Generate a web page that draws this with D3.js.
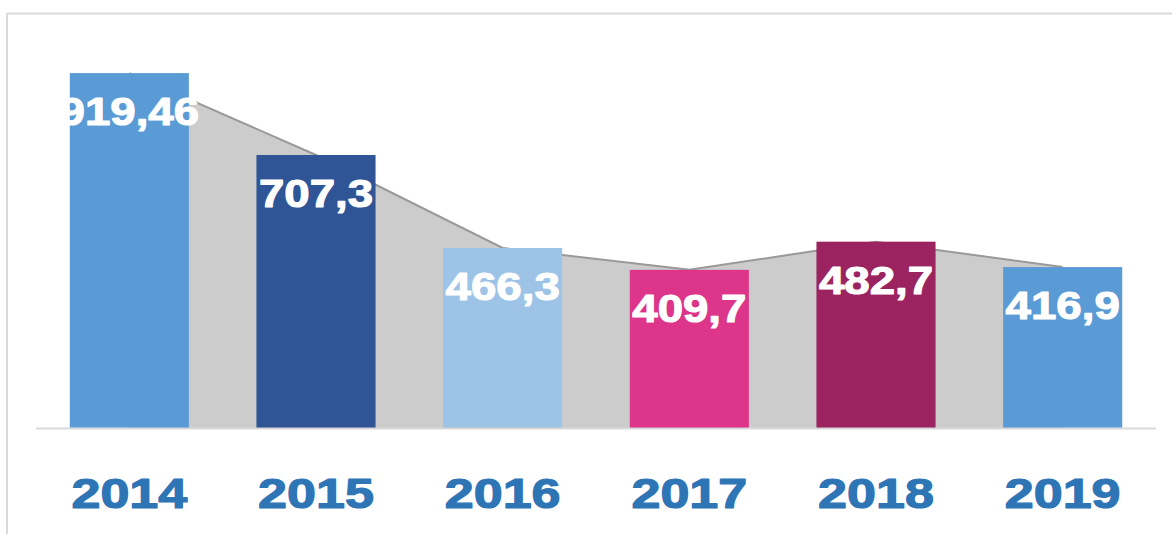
<!DOCTYPE html>
<html><head><meta charset="utf-8">
<script src="https://cdn.jsdelivr.net/npm/d3@7"></script>
<style>html,body{margin:0;padding:0;background:#fff;}svg{display:block;}</style>
</head><body>
<svg id="chart" width="1172" height="534"></svg>
<script>
const years = ["2014","2015","2016","2017","2018","2019"];
const values = [919.46, 707.3, 466.3, 409.7, 482.7, 416.9];
const valueLabels = ["919,46","707,3","466,3","409,7","482,7","416,9"];
const barColors = ["#5b9bd5","#2f5597","#9dc3e6","#dc3589","#9b2360","#5b9bd5"];
const yDomain = [0, 1000];

const svg = d3.select("#chart");
const x = d3.scaleBand().domain(years).range([36, 1156]).paddingInner(0.362).paddingOuter(0.181);
const y = d3.scaleLinear().domain(yDomain).range([428, 42]);

// frame
svg.append("line").attr("x1",7).attr("x2",1172).attr("y1",13.5).attr("y2",13.5).attr("stroke","#d9d9d9").attr("stroke-width",2);
svg.append("line").attr("x1",7).attr("x2",7).attr("y1",13).attr("y2",534).attr("stroke","#d9d9d9").attr("stroke-width",2);

const cx = d => x(d) + x.bandwidth()/2;
const data = years.map((yr,i)=>({yr, v:values[i], label:valueLabels[i], c:barColors[i]}));

// area
svg.append("path").datum(data)
  .attr("d", d3.area().x(d=>cx(d.yr)).y0(y(0)).y1(d=>y(d.v)))
  .attr("fill","#cccccc");
svg.append("path").datum(data)
  .attr("d", d3.line().x(d=>cx(d.yr)).y(d=>y(d.v)))
  .attr("fill","none").attr("stroke","#999999").attr("stroke-width",2);

// baseline
svg.append("line").attr("x1",36).attr("x2",1156).attr("y1",428.5).attr("y2",428.5).attr("stroke","#d9d9d9").attr("stroke-width",2);

// bars
svg.selectAll("rect.bar").data(data).join("rect").attr("class","bar")
  .attr("x", d=>x(d.yr)).attr("width", x.bandwidth())
  .attr("y", d=>y(d.v)).attr("height", d=>y(0)-y(d.v) - 0.5)
  .attr("fill", d=>d.c);

// value labels
svg.selectAll("text.val").data(data).join("text").attr("class","val")
  .attr("transform", d=>`translate(${cx(d.yr)},${y(d.v)+52}) scale(1.17,1)`)
  .attr("text-anchor","middle")
  .attr("font-family","'Liberation Sans', Arial, sans-serif").attr("font-weight","bold")
  .attr("font-size",39).attr("fill","#ffffff")
  .attr("stroke","#ffffff").attr("stroke-width",1.1).attr("stroke-linejoin","round")
  .text(d=>d.label);

// x axis labels
const xAxis = d3.axisBottom(x).tickSize(0).tickPadding(0);
const g = svg.append("g").attr("transform","translate(0,0)").call(xAxis);
g.select(".domain").remove();
g.selectAll(".tick text")
  .attr("transform", "translate(0,508) scale(1.24,1)")
  .attr("y",0).attr("dy",0)
  .attr("text-anchor","middle")
  .attr("font-family","'Liberation Sans', Arial, sans-serif").attr("font-weight","bold")
  .attr("font-size",42).attr("fill","#2e75b6")
  .attr("stroke","#2e75b6").attr("stroke-width",1.2).attr("stroke-linejoin","round");
</script>
</body></html>
